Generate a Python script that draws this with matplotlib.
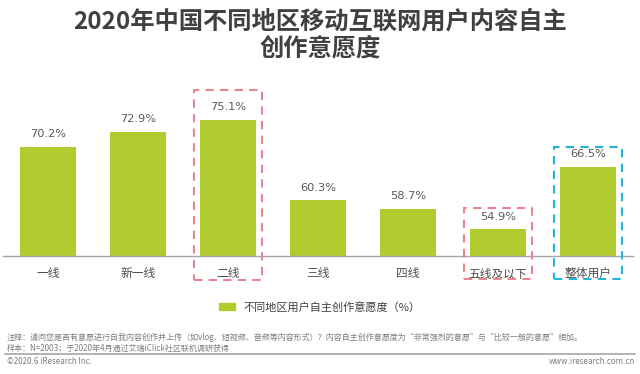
import matplotlib
matplotlib.use("Agg")
import matplotlib.pyplot as plt
from matplotlib.patches import Rectangle
from matplotlib.lines import Line2D

plt.rcParams['font.family'] = ['Noto Sans CJK SC', 'DejaVu Sans']

categories = ["一线", "新一线", "二线", "三线", "四线", "五线及以下", "整体用户"]
values = [70.2, 72.9, 75.1, 60.3, 58.7, 54.9, 66.5]
labels = ["70.2%", "72.9%", "75.1%", "60.3%", "58.7%", "54.9%", "66.5%"]
title = "2020年中国不同地区移动互联网用户内容自主\n创作意愿度"
legend_label = "不同地区用户自主创作意愿度（%）"
note1 = "注释：请问您是否有意愿进行自我内容创作并上传（如vlog、短视频、音频等内容形式）？内容自主创作意愿度为“非常强烈的意愿”与“比较一般的意愿”相加。"
note2 = "样本：N=2003；于2020年4月通过艾瑞iClick社区联机调研获得"
footer_left = "©2020.6 iResearch Inc."
footer_right = "www.iresearch.com.cn"

W, H = 640, 374
fig = plt.figure(figsize=(W / 100, H / 100), dpi=100)
GREEN = "#B0CC2F"
PINK = "#E8858F"
BLUE = "#24B6DA"

ax_left, ax_right = 3, 633
ax_top, ax_bottom = 80, 256
ax = fig.add_axes([ax_left / W, 1 - ax_bottom / H, (ax_right - ax_left) / W, (ax_bottom - ax_top) / H])
ppu = 5.42
ymin = 50
ymax = ymin + (ax_bottom - ax_top) / ppu
ax.set_xlim(-0.5, 6.5)
ax.set_ylim(ymin, ymax)

x = list(range(len(categories)))
ax.bar(x, [v - ymin for v in values], bottom=ymin, width=0.62, color=GREEN, label=legend_label, zorder=2)
for xi, v, lab in zip(x, values, labels):
    ax.text(xi, v + 1.4, lab, ha="center", va="bottom", fontsize=8.2, color="#595959", family=['DejaVu Sans'])

for s in ["top", "right", "left"]:
    ax.spines[s].set_visible(False)
ax.spines["bottom"].set_color("#A6A6A6")
ax.spines["bottom"].set_linewidth(1.0)
ax.set_yticks([])
ax.set_xticks(x)
ax.set_xticklabels(categories, fontsize=8.5, color="#4D4D4D")
ax.tick_params(axis="x", length=0, pad=8)

def box(i, ytop_px, ybot_px, color, half=0.375):
    y0 = ymin - (ybot_px - ax_bottom) / ppu
    y1 = ymin + (ax_bottom - ytop_px) / ppu
    r = Rectangle((i - half, y0), 2 * half, y1 - y0, fill=False, edgecolor=color,
                  linestyle=(0, (4, 3)), linewidth=1.5, clip_on=False, zorder=3)
    ax.add_patch(r)

box(2, 90, 280, PINK)
box(5, 208, 279, PINK)
box(6, 147, 279, BLUE)

handle = Rectangle((0, 0), 1, 1, color=GREEN)
fig.legend([handle], [legend_label], loc="center", bbox_to_anchor=(320 / W, 1 - 307 / H),
           frameon=False, fontsize=8, handlelength=1.4, handleheight=0.6, labelcolor="#404040")

fig.text(0.5, 1 - 34.5 / H, title, ha="center", va="center", fontsize=17.5, fontweight="bold",
         color="#404040", linespacing=1.15)

fig.text(7 / W, 1 - 337.5 / H, note1, ha="left", va="center", fontsize=5.8, color="#7F7F7F")
fig.text(7 / W, 1 - 348 / H, note2, ha="left", va="center", fontsize=5.8, color="#7F7F7F")
fig.add_artist(Line2D([5 / W, 635 / W], [1 - 354 / H, 1 - 354 / H], color="#A6A6A6", linewidth=1.2))
fig.text(7 / W, 1 - 362 / H, footer_left, ha="left", va="center", fontsize=5.8, color="#7F7F7F")
fig.text(635 / W, 1 - 362 / H, footer_right, ha="right", va="center", fontsize=5.8, color="#7F7F7F")

fig.savefig("out.png", dpi=100, facecolor="white")
